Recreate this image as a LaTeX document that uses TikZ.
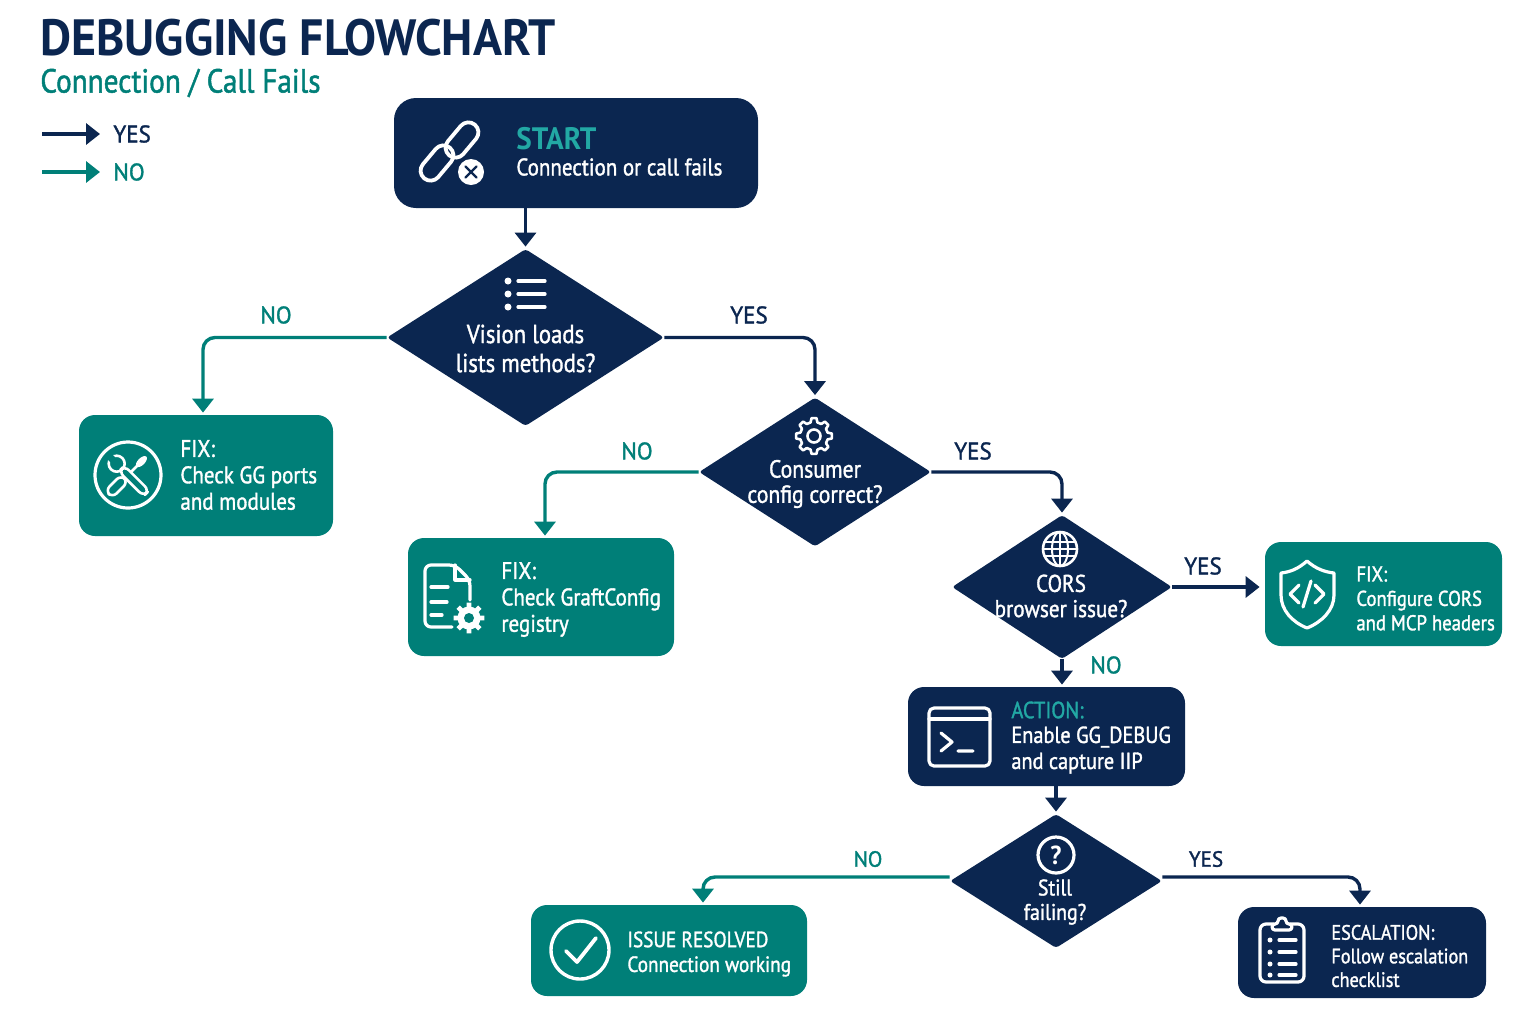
\documentclass[tikz,border=0pt]{standalone}
\usepackage{fontspec}
\setmainfont{PT Sans}[FakeStretch=0.875,FakeBold=1.4]
\newfontfamily\titlefont{PT Sans}[FakeStretch=0.94]
\newfontfamily\tagfont{PT Sans}[FakeStretch=0.96,FakeBold=1.4]
\usepackage{tikz}
\usetikzlibrary{arrows.meta,shapes.geometric}
\definecolor{navy}{HTML}{0B2650}
\definecolor{teal}{HTML}{007F78}
\definecolor{lightteal}{HTML}{22A8A4}
\tikzstyle{box}=[rectangle, inner sep=0pt, rounded corners=8pt]
\tikzstyle{decision}=[diamond, fill=navy, inner sep=0pt, rounded corners=1.5pt]
\tikzstyle{boxtext}=[white, anchor=west, align=left, inner sep=0pt, font=\fontsize{12}{13.2}\selectfont]
\tikzstyle{asktext}=[white, align=center, inner sep=0pt, font=\fontsize{12}{12.6}\selectfont]
\tikzstyle{tag}=[inner sep=0pt, font=\tagfont\fontsize{12}{14}\selectfont]
\tikzstyle{iconline}=[white, line width=1.6pt, line cap=round, line join=round]
\tikzstyle{yesline}=[navy, line width=1.7pt, rounded corners=6pt, shorten >=1pt, -{Triangle[width=10.5pt,length=7pt]}]
\tikzstyle{noline}=[teal, line width=1.7pt, rounded corners=6pt, shorten >=1pt, -{Triangle[width=10.5pt,length=7pt]}]
\newcommand{\decision}{\node[decision]}
\newcommand{\boxnode}{\node[box]}
\newcommand{\gearwheel}[4]{%
	\foreach \a in {0,45,...,315}
		\draw[#1] ({\a-14+#4}:#2) -- ({\a-8+#4}:#3) -- ({\a+8+#4}:#3) -- ({\a+14+#4}:#2) -- ({\a+31+#4}:#2);
}

\begin{document}
\begin{tikzpicture}[x=0.5pt,y=-0.5pt]
	\useasboundingbox (0,0) rectangle (1536,1024);
	\node[anchor=west,inner sep=0pt,text=navy,font=\titlefont\fontsize{25.5}{30}\selectfont\bfseries](title) at (40,38) {DEBUGGING FLOWCHART};
	\node[anchor=west,inner sep=0pt,text=teal,font=\fontsize{16.7}{18}\selectfont](subtitle) at (40,83) {Connection / Call Fails};

	% legend
	\coordinate (yesa) at (42,134);
	\coordinate (yesb) at (102,134);
	\coordinate (noa) at (42,172);
	\coordinate (nob) at (102,172);
	\draw[yesline] (yesa) -- (yesb);
	\draw[noline] (noa) -- (nob);
	\node[tag,anchor=west,text=navy](yeskey) at (113,134) {YES};
	\node[tag,anchor=west,text=teal](nokey) at (113,172) {NO};

	% boxes and decisions
	\boxnode[fill=navy,minimum width=182pt,minimum height=55pt,rounded corners=11pt](start) at (576,153) {};
	\decision[minimum width=138.5pt,minimum height=88.5pt](vision) at (525.5,337.5) {};
	\decision[minimum width=116pt,minimum height=74.5pt](consumer) at (815,472) {};
	\decision[minimum width=110pt,minimum height=72pt](cors) at (1062,587) {};
	\decision[minimum width=106pt,minimum height=67pt](still) at (1056,881) {};
	\boxnode[fill=teal,minimum width=127pt,minimum height=60.5pt](fixports) at (206,475.5) {};
	\boxnode[fill=teal,minimum width=133pt,minimum height=59pt](fixconfig) at (541,597) {};
	\boxnode[fill=teal,minimum width=118.5pt,minimum height=52pt](fixcors) at (1383.5,594) {};
	\boxnode[fill=navy,minimum width=138.5pt,minimum height=49.5pt](action) at (1046.5,736.5) {};
	\boxnode[fill=teal,minimum width=138pt,minimum height=45.5pt](resolved) at (669,950.5) {};
	\boxnode[fill=navy,minimum width=124pt,minimum height=45.5pt](escalation) at (1362,952.5) {};

	% connectors
	\draw[yesline] (vision.north |- start.south) -- (vision.north);
	\draw[noline] (vision.west) -| ([xshift=-1.5pt]fixports.north);
	\draw[yesline] (vision.east) -| (consumer.north);
	\draw[noline] (consumer.west) -| ([xshift=2pt]fixconfig.north);
	\draw[yesline] (consumer.east) -| (cors.north);
	\draw[yesline,shorten >=2.5pt] (cors.east) -- (cors.east -| fixcors.west);
	\draw[yesline] (cors.south) -- (cors.south |- action.north);
	\draw[yesline] (still.north |- action.south) -- (still.north);
	\draw[noline] ([yshift=2pt]still.west) -| ([xshift=17pt]resolved.north);
	\draw[yesline] ([yshift=2pt]still.east) -| ([xshift=-1pt]escalation.north);

	% connector labels
	\node[tag,text=teal](noa1) at (276,315) {NO};
	\node[tag,text=navy](yes1) at (749,315) {YES};
	\node[tag,text=teal](no2) at (637,451) {NO};
	\node[tag,text=navy](yes2) at (973,451) {YES};
	\node[tag,text=navy](yes3) at (1203,566) {YES};
	\node[tag,text=teal](no3) at (1106,665) {NO};
	\node[tag,text=teal,font=\tagfont\fontsize{11}{13}\selectfont](no4) at (868,859) {NO};
	\node[tag,text=navy,font=\tagfont\fontsize{11}{13}\selectfont](yes4) at (1206,859) {YES};

	% box texts
	\node[boxtext,text=lightteal,font=\titlefont\fontsize{15.5}{18}\selectfont\bfseries](starthead) at (516,139) {START};
	\node[boxtext](starttext) at (516,167) {Connection or call fails};
	\node[asktext,font=\fontsize{13}{14.5}\selectfont](visiontext) at (525.5,348.5) {Vision loads\\lists methods?};
	\node[asktext,font=\fontsize{12.4}{12.6}\selectfont](consumertext) at (815,484) {Consumer\\config correct?};
	\node[asktext,font=\fontsize{12.1}{12.6}\selectfont](corstext) at (1061,596) {CORS\\browser issue?};
	\node[asktext,font=\fontsize{11.3}{12.2}\selectfont](stilltext) at (1055,902) {Still\\failing?};
	\node[boxtext](fixportstext) at (180,475) {FIX:\\Check GG ports\\and modules};
	\node[boxtext](fixconfigtext) at (501,599.5) {FIX:\\Check GraftConfig\\registry};
	\node[boxtext,font=\fontsize{10.7}{12.2}\selectfont](fixcorstext) at (1356,598.5) {FIX:\\Configure CORS\\and MCP headers};
	\node[boxtext,text=lightteal,font=\fontsize{11.7}{13}\selectfont](actionhead) at (1011,710) {ACTION:};
	\node[boxtext,font=\fontsize{11.6}{13}\selectfont](actiontext) at (1011,750) {Enable GG\_DEBUG\\and capture IIP};
	\node[boxtext,font=\fontsize{11}{12.4}\selectfont](resolvedtext) at (627,954) {ISSUE RESOLVED\\Connection working};
	\node[boxtext,font=\fontsize{10.4}{11.8}\selectfont](escalationtext) at (1331,956) {ESCALATION:\\Follow escalation\\checklist};

	% broken link icon
	\begin{scope}[shift={(462,140)},rotate=50]
		\draw[iconline,line width=1.9pt,rounded corners=5pt] (-20,-10) rectangle (20,10);
	\end{scope}
	\begin{scope}[shift={(437,163)},rotate=50]
		\draw[iconline,line width=1.9pt,rounded corners=5pt] (-20,-10) rectangle (20,10);
	\end{scope}
	\fill[navy] (471,172) circle (16);
	\fill[white] (471,172) circle (13);
	\draw[navy,line width=1.2pt,line cap=round] (465.5,166.5) -- (476.5,177.5) (476.5,166.5) -- (465.5,177.5);

	% list icon
	\foreach \y in {281,294,307} {
		\fill[white] (508,\y) circle (3.5);
		\draw[iconline] (518,\y) -- (545,\y);
	}

	% tools icon
	\draw[white,line width=1.6pt] (128,475) circle (33);
	\begin{scope}[shift={(128,475)},rotate=45]
		\draw[iconline,line width=1.3pt,fill=teal,rounded corners=3pt] (-27,-5) rectangle (-5,5);
		\draw[iconline,line width=1.3pt] (-5,0) -- (14,0);
		\fill[white] (19,0) ellipse (7 and 3.5);
	\end{scope}
	\begin{scope}[shift={(128,475)},rotate=-45]
		\draw[iconline,line width=1.3pt] (-16,0) circle (8);
		\fill[teal] (-26,-3.5) rectangle (-16,3.5);
		\draw[iconline,line width=1.3pt,fill=teal,rounded corners=3pt] (-9,-4) rectangle (26,4);
	\end{scope}

	% gear icon
	\begin{scope}[shift={(814,436)}]
		\gearwheel{iconline,line width=1.3pt}{14}{18}{0}
		\draw[iconline,line width=1.3pt] (0,0) circle (6.5);
	\end{scope}

	% document icon
	\draw[iconline,rounded corners=3pt] (470,600) -- (470,580) -- (455,565) -- (425,565) -- (425,627) -- (452,627);
	\draw[iconline] (455,565) -- (455,580) -- (470,580);
	\draw[iconline] (431,587) -- (448,587) (431,602) -- (447,602) (431,615) -- (442,615);
	\begin{scope}[shift={(469,618)}]
		\foreach \a in {0,45,...,315}
			\fill[white] ({\a-13}:11) -- ({\a-9}:15.5) -- ({\a+9}:15.5) -- ({\a+13}:11) -- (0,0) -- cycle;
		\fill[white] (0,0) circle (11.5);
		\fill[teal] (0,0) circle (5);
	\end{scope}

	% globe icon
	\begin{scope}[shift={(1060,549)}]
		\draw[iconline,line width=1.3pt] (0,0) circle (17);
		\draw[iconline,line width=1pt] (0,0) ellipse (8 and 17);
		\draw[iconline,line width=1pt] (0,-17) -- (0,17) (-17,0) -- (17,0) (-15,-7) -- (15,-7) (-15,7) -- (15,7);
	\end{scope}

	% shield icon
	\draw[iconline] (1307,561) .. controls (1316,569) and (1325,572) .. (1334,573) -- (1334,595) .. controls (1334,610) and (1322,622) .. (1307,628) .. controls (1292,622) and (1281,610) .. (1281,595) -- (1281,573) .. controls (1290,572) and (1298,569) .. (1307,561) -- cycle;
	\draw[iconline] (1299,585) -- (1290,594) -- (1299,603) (1315,585) -- (1324,594) -- (1315,603) (1311,581) -- (1303,607);

	% terminal icon
	\draw[iconline,rounded corners=2.5pt] (929,708) rectangle (990,766);
	\draw[iconline] (929,719) -- (990,719);
	\draw[iconline] (941,733) -- (952,742) -- (941,751) (958,751) -- (973,751);

	% question icon
	\draw[iconline] (1056,855) circle (18);
	\node[inner sep=0pt,white,font=\titlefont\fontsize{13}{14}\selectfont\bfseries](mark) at (1056,855) {?};

	% check icon
	\draw[white,line width=1.7pt] (580,950) circle (29);
	\draw[iconline,line width=1.9pt] (566,951) -- (577,962) -- (596,938);

	% clipboard icon
	\draw[iconline,rounded corners=3pt] (1274,924) -- (1260,924) -- (1260,982) -- (1304,982) -- (1304,924) -- (1290,924);
	\draw[iconline,fill=navy,rounded corners=1.5pt] (1272,930) -- (1272,924) -- (1278,924) -- (1278,918) -- (1286,918) -- (1286,924) -- (1292,924) -- (1292,930) -- cycle;
	\foreach \y in {940,952,964,975} {
		\fill[white] (1270,\y) circle (2.5);
		\draw[iconline] (1279,\y) -- (1296,\y);
	}
\end{tikzpicture}
\end{document}
